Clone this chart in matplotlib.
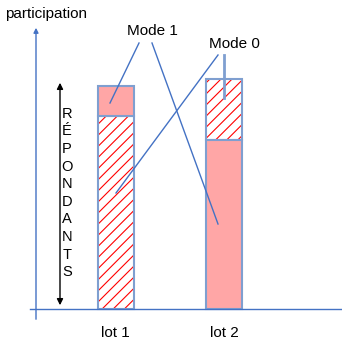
import matplotlib.pyplot as plt

plt.rcParams['font.family'] = ['Liberation Sans', 'DejaVu Sans']
plt.rcParams['hatch.linewidth'] = 0.8

# chart data (pixel-ish units of height)
lots = ['lot 1', 'lot 2']
mode0 = [193, 61]      # hatched
mode1 = [30, 169]      # pink
# stacking order: lot 1 has mode0 at bottom, lot 2 has mode1 at bottom
mode0_on_top = [False, True]

pink = '#FFA6A6'
edge = '#7F9FD0'
axis_blue = '#4472C4'

fig = plt.figure(figsize=(3.42, 3.41), dpi=100)
ax = fig.add_axes([0, 0, 1, 1])
ax.set_xlim(0, 342)
ax.set_ylim(-32, 309)
ax.axis('off')

x0, gap, w = 115.5, 108.5, 36
xs = [x0 + i * gap for i in range(len(lots))]

for x, m0, m1, top in zip(xs, mode0, mode1, mode0_on_top):
    if top:
        b0, b1 = m1, 0
    else:
        b0, b1 = 0, m0
    ax.bar(x, m0, w, bottom=b0, color='white', edgecolor='red', hatch='///', linewidth=0)
    ax.bar(x, m0, w, bottom=b0, fill=False, edgecolor=edge, linewidth=1.5)
    ax.bar(x, m1, w, bottom=b1, color=pink, edgecolor=edge, linewidth=1.5)

for x, lab in zip(xs, lots):
    ax.text(x, -24, lab, ha='center', va='center', fontsize=11)

# axes lines
ax.plot([30, 342], [0, 0], color=axis_blue, lw=1)
ax.annotate('', xy=(36, 284), xytext=(36, -13),
            arrowprops=dict(arrowstyle='-|>', color=axis_blue, lw=1,
                            mutation_scale=7))
ax.text(5, 295, 'participation', ha='left', va='center', fontsize=11)

# respondents double arrow
ax.annotate('', xy=(60, 229), xytext=(60, 1),
            arrowprops=dict(arrowstyle='<|-|>', color='black', lw=1,
                            mutation_scale=9))
ax.text(67, 116, '\n'.join('RÉPONDANTS'), ha='center', va='center',
        fontsize=10.5, linespacing=1.33)

# callouts
ax.text(152, 278, 'Mode 1', ha='center', va='center', fontsize=11)
ax.text(234, 265, 'Mode 0', ha='center', va='center', fontsize=11)
ax.plot([139, 110], [266, 206], color=axis_blue, lw=1)
ax.plot([152, 218], [266, 85], color=axis_blue, lw=1)
ax.plot([218, 116], [254, 116], color=axis_blue, lw=1)
ax.plot([224, 224], [254, 211], color=edge, lw=2)

fig.savefig('out.png', dpi=100)
